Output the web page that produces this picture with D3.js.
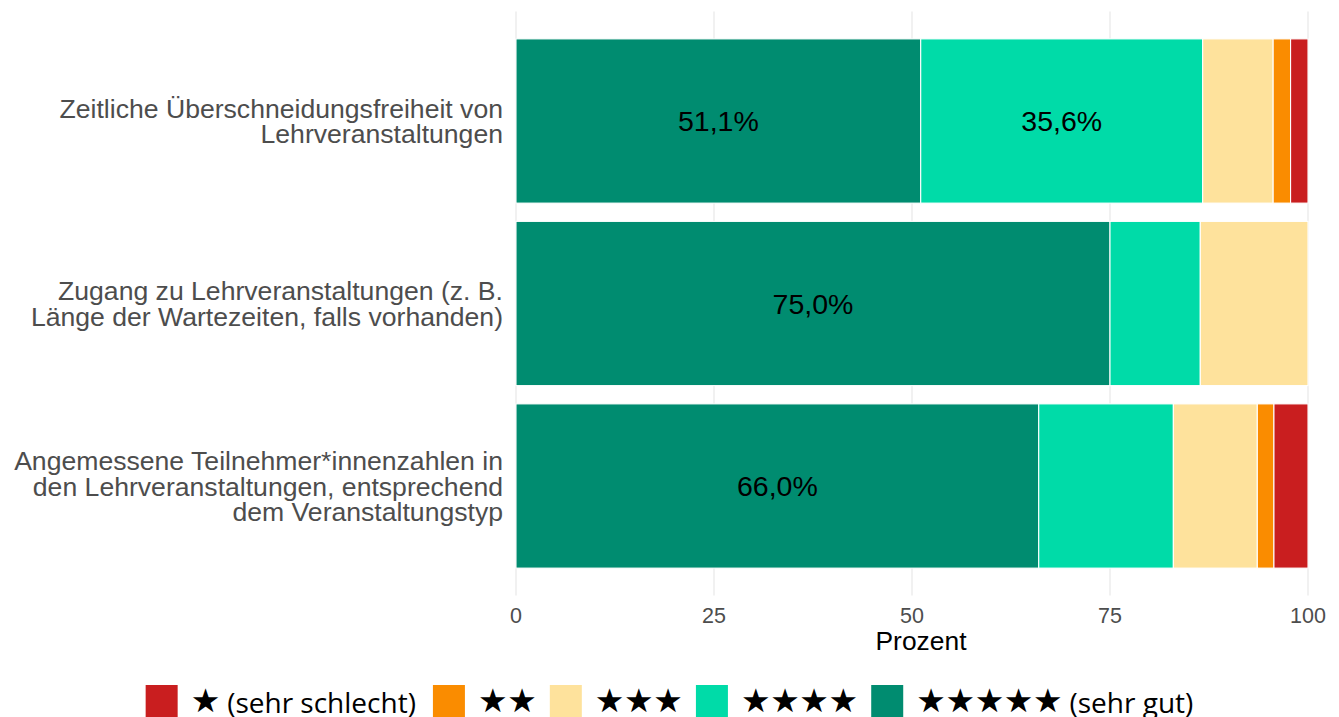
<!DOCTYPE html>
<html>
<head>
<meta charset="utf-8">
<script src="https://cdn.jsdelivr.net/npm/d3@7"></script>
<style>
  body { margin: 0; background: #fff; }
  svg { display: block; }
</style>
</head>
<body>
<svg id="chart" width="1339" height="717"></svg>
<script>
// --- Data ---
const items = [
  ["Zeitliche Überschneidungsfreiheit von", "Lehrveranstaltungen"],
  ["Zugang zu Lehrveranstaltungen (z. B.", "Länge der Wartezeiten, falls vorhanden)"],
  ["Angemessene Teilnehmer*innenzahlen in", "den Lehrveranstaltungen, entsprechend", "dem Veranstaltungstyp"]
];
// stacking order left to right: 5 stars ... 1 star
const levels = ["5", "4", "3", "2", "1"];
const share5 = [51.1, 75.0, 66.0];
const share4 = [35.6, 11.4, 17.0];
const share3 = [8.9, 13.6, 10.6];
const share2 = [2.2, 0, 2.1];
const share1 = [2.2, 0, 4.3];
const xTicks = [0, 25, 50, 75, 100];

const legendStars = [1, 2, 3, 4, 5];
const legendNotes = ["(sehr schlecht)", "", "", "", "(sehr gut)"];
const legendLevels = ["1", "2", "3", "4", "5"];
const colors = { "5": "#008c70", "4": "#00dba8", "3": "#fee29c", "2": "#fa8c00", "1": "#c91e1f" };

// --- Setup ---
const svg = d3.select("#chart");
const font = "'Liberation Sans', Arial, sans-serif";

const x = d3.scaleLinear().domain([0, 100]).range([516, 1308]);
const y = d3.scaleBand()
  .domain(d3.range(items.length))
  .range([11.5, 595.5])
  .paddingInner(0.1)
  .paddingOuter(0.15);

// grid
svg.append("g")
  .selectAll("line")
  .data(xTicks)
  .join("line")
  .attr("x1", (d) => x(d))
  .attr("x2", (d) => x(d))
  .attr("y1", 11.5)
  .attr("y2", 595.5)
  .attr("stroke", "#ebebeb")
  .attr("stroke-width", 1.4);

// stacked segments
const series = [share5, share4, share3, share2, share1];
const segs = items.flatMap((_, i) => {
  let acc = 0;
  return levels.map((lv, k) => {
    const v = series[k][i];
    const seg = { row: i, level: lv, value: v, x0: acc, x1: acc + v };
    acc += v;
    return seg;
  }).filter((s) => s.value > 0);
});

svg.append("g")
  .selectAll("rect")
  .data(segs)
  .join("rect")
  .attr("x", (d) => x(d.x0))
  .attr("width", (d) => x(d.x1) - x(d.x0))
  .attr("y", (d) => y(d.row))
  .attr("height", y.bandwidth())
  .attr("fill", (d) => colors[d.level])
  .attr("stroke", "#fff")
  .attr("stroke-width", 1.1);

// value labels
const fmt = (v) => v.toFixed(1).replace(".", ",") + "%";
svg.append("g")
  .selectAll("text")
  .data(segs.filter((d) => d.value >= 25))
  .join("text")
  .attr("x", (d) => (x(d.x0) + x(d.x1)) / 2)
  .attr("y", (d) => y(d.row) + y.bandwidth() / 2)
  .attr("dy", "0.36em")
  .attr("text-anchor", "middle")
  .attr("font-family", font)
  .attr("font-size", 28.5)
  .attr("fill", "#000")
  .text((d) => fmt(d.value));

// category labels
const catSize = 26.6, lineH = 25.6;
const cat = svg.append("g")
  .selectAll("text")
  .data(items)
  .join("text")
  .attr("text-anchor", "end")
  .attr("font-family", font)
  .attr("font-size", catSize)
  .attr("fill", "#4d4d4d");
cat.each(function (lines, i) {
  const cy = y(i) + y.bandwidth() / 2;
  const first = cy + 0.36 * catSize - ((lines.length - 1) * lineH) / 2;
  d3.select(this)
    .selectAll("tspan")
    .data(lines)
    .join("tspan")
    .attr("x", 503)
    .attr("y", (d, k) => first + k * lineH)
    .text((d) => d);
});

// x axis tick labels
svg.append("g")
  .selectAll("text")
  .data(xTicks)
  .join("text")
  .attr("x", (d) => x(d))
  .attr("y", 623)
  .attr("text-anchor", "middle")
  .attr("font-family", font)
  .attr("font-size", 21.5)
  .attr("fill", "#4d4d4d")
  .text((d) => d);

svg.append("text")
  .attr("x", 921)
  .attr("y", 650)
  .attr("text-anchor", "middle")
  .attr("font-family", font)
  .attr("font-size", 26.4)
  .attr("fill", "#000")
  .text("Prozent");

// --- Legend ---
const legFont = "'Open Sans', 'Noto Sans', sans-serif";
const keySize = 32, keyGap = 17, itemGap = 17;
const starPitch = 29.2, starW = 21.7, noteGap = 32.5;
const leg = svg.append("g");
const legItems = leg.selectAll("g")
  .data(legendStars)
  .join("g");
legItems.append("rect")
  .attr("width", keySize)
  .attr("height", keySize)
  .attr("y", 685)
  .attr("fill", (d, i) => colors[legendLevels[i]]);
legItems.each(function (n, i) {
  const g = d3.select(this);
  g.selectAll("text.star")
    .data(d3.range(n))
    .join("text")
    .attr("class", "star")
    .attr("x", (k) => keySize + keyGap + k * starPitch + starW / 2)
    .attr("y", 712)
    .attr("text-anchor", "middle")
    .attr("font-family", "'DejaVu Sans', sans-serif")
    .attr("font-size", 33)
    .attr("fill", "#000")
    .text("★");
  if (legendNotes[i]) {
    g.append("text")
      .attr("class", "note")
      .attr("x", keySize + keyGap + (n - 1) * starPitch + noteGap)
      .attr("y", 713)
      .attr("font-family", legFont)
      .attr("font-size", 28)
      .attr("fill", "#000")
      .text(legendNotes[i]);
  }
});

const widths = legendStars.map((n, i) => {
  const note = d3.select(legItems.nodes()[i]).select("text.note").node();
  const starsW = (n - 1) * starPitch + starW;
  return note ? (n - 1) * starPitch + noteGap + note.getComputedTextLength() : starsW;
});
const total = d3.sum(widths, (w) => keySize + keyGap + w) + itemGap * (widths.length - 1);
let cx = (1339 - total) / 2;
legItems.attr("transform", (d, i) => {
  const t = `translate(${cx},0)`;
  cx += keySize + keyGap + widths[i] + itemGap;
  return t;
});
</script>
</body>
</html>
